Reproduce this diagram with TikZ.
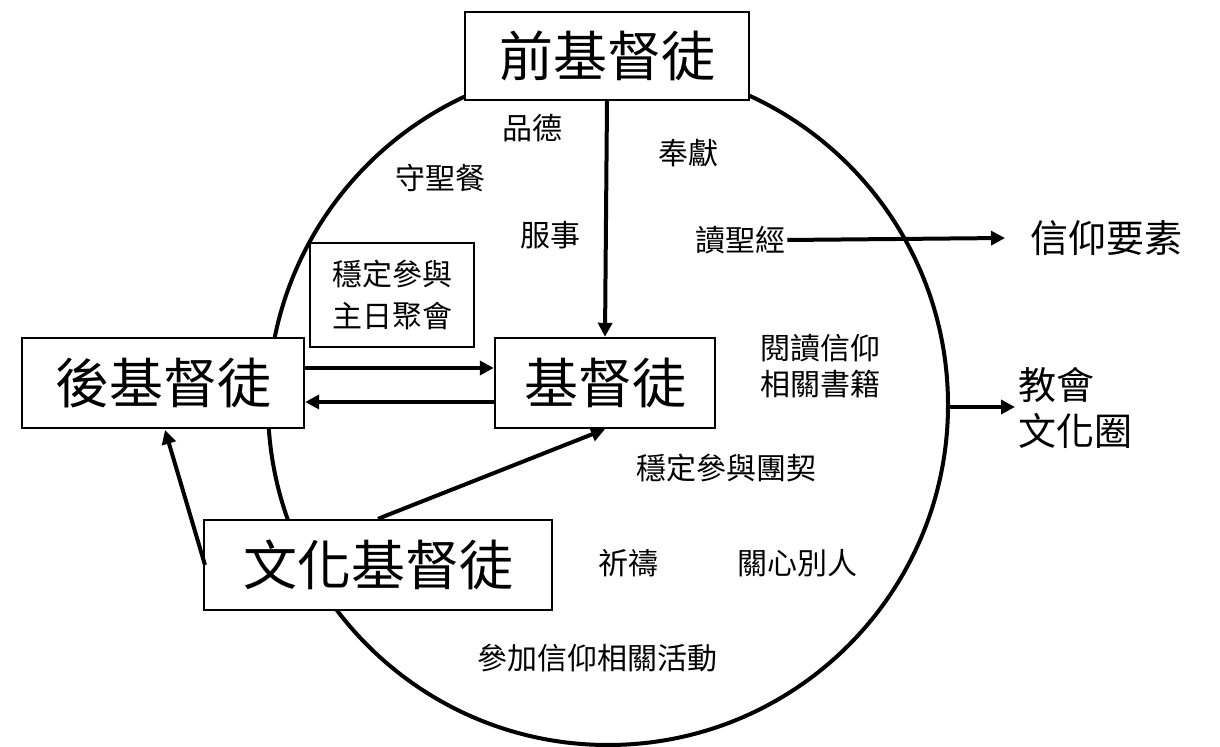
\documentclass[tikz,border=0pt]{standalone}
\usepackage{fontspec}
\setmainfont{Noto Sans CJK TC}
\usetikzlibrary{arrows.meta}
\begin{document}
\begin{tikzpicture}[x=0.5pt,y=-0.5pt,
  big/.style={draw,line width=1.2pt,fill=white,font=\fontsize{27}{30}\selectfont,inner sep=0pt},
  lbl/.style={font=\fontsize{15}{18}\selectfont,inner sep=1pt},
  mid/.style={font=\fontsize{19}{23}\selectfont,inner sep=1pt,align=left},
  arr/.style={line width=2pt,-{Triangle[length=7pt,width=7pt]}}]
\useasboundingbox (0,0) rectangle (1220,747);
\draw[line width=2pt] (608,405) circle[radius=340];
\node[big,minimum width=142pt,minimum height=44pt] (pre) at (607,56) {前基督徒};
\node[big,minimum width=141pt,minimum height=45pt] (post) at (163,383) {後基督徒};
\node[big,minimum width=110pt,minimum height=45pt] (chr) at (605,383) {基督徒};
\node[big,minimum width=174pt,minimum height=45pt] (cul) at (378,565) {文化基督徒};
\node[draw,line width=0.8pt,fill=white,font=\fontsize{15}{21}\selectfont,align=center,minimum width=82pt,minimum height=52pt] (sun) at (392,295) {穩定參與\\主日聚會};
\node[lbl] (pd) at (532,128) {品德};
\node[lbl] (sc) at (440,178) {守聖餐};
\node[lbl] (fx) at (688,153) {奉獻};
\node[lbl] (fs) at (550,235) {服事};
\node[lbl] (dsj) at (740,240) {讀聖經};
\node[mid] (xy) at (1106,238) {信仰要素};
\node[lbl,align=center] (yd) at (820,366) {閱讀信仰\\相關書籍};
\node[mid] (jh) at (1075,408) {教會\\文化圈};
\coordinate (cr) at (948,407);
\node[lbl] (tq) at (726,468) {穩定參與團契};
\node[lbl] (qd) at (628,563) {祈禱};
\node[lbl] (gx) at (797,563) {關心別人};
\node[lbl] (cj) at (597,658) {參加信仰相關活動};
\draw[arr] (pre.south) -- (chr.north);
\draw[arr] ([yshift=7.5pt]post.east) -- ([yshift=7.5pt]chr.west);
\draw[arr] ([yshift=-9.5pt]chr.west) -- ([yshift=-9.5pt]post.east);
\draw[arr] (cul.north) -- (chr.south);
\draw[arr] (205,565) -- (165,430);
\draw[arr] (dsj.east) -- (1005,238);
\draw[arr] (cr) -- (1015,407);
\end{tikzpicture}
\end{document}
